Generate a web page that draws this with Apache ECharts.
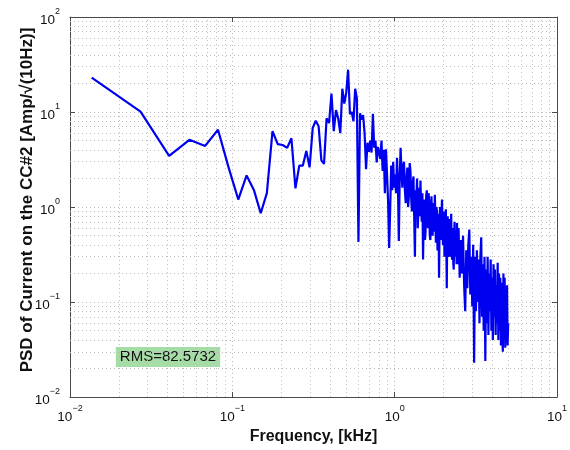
<!DOCTYPE html>
<html>
<head>
<meta charset="utf-8">
<script src="https://cdn.jsdelivr.net/npm/echarts@6/dist/echarts.min.js"></script>
<style>html,body{margin:0;padding:0;background:#fff;}#c{width:570px;height:450px;}</style>
</head>
<body>
<div id="c"></div>
<script>
// Frequency bins [kHz]
const freqKHz = [
  0.0136, 0.0272, 0.0408, 0.0544, 0.068, 0.0816, 0.0952, 0.1088, 0.1224, 0.136,
  0.1496, 0.1632, 0.1768, 0.1904, 0.204, 0.2176, 0.2312, 0.2448, 0.2584, 0.272,
  0.2856, 0.2992, 0.3128, 0.3264, 0.34, 0.3536, 0.3672, 0.3808, 0.3944, 0.408,
  0.4216, 0.4352, 0.4488, 0.4624, 0.476, 0.4896, 0.5032, 0.5168, 0.5304, 0.544,
  0.5576, 0.5712, 0.5848, 0.5984,
  0.612, 0.6256, 0.6392, 0.6528, 0.6664, 0.68, 0.6936, 0.7072, 0.7208, 0.7344,
  0.748, 0.7616, 0.7752, 0.7888, 0.8024, 0.816, 0.8296, 0.8432, 0.8568, 0.8704,
  0.884, 0.8976, 0.9112, 0.9248, 0.9384, 0.952, 0.9656, 0.9792, 0.9928,
  1.006, 1.020, 1.034, 1.047, 1.061, 1.074, 1.088, 1.102, 1.115, 1.129,
  1.142, 1.156, 1.170, 1.183, 1.197, 1.210, 1.224, 1.238, 1.251, 1.265,
  1.278, 1.292, 1.306, 1.319, 1.333, 1.346, 1.360, 1.374, 1.387, 1.401,
  1.414, 1.428, 1.442, 1.455, 1.469, 1.482, 1.496, 1.510, 1.523, 1.537,
  1.550, 1.564, 1.578, 1.591, 1.605, 1.618, 1.632, 1.646, 1.659, 1.673,
  1.686, 1.700, 1.714, 1.727, 1.741, 1.754, 1.768, 1.782, 1.795, 1.809,
  1.822, 1.836, 1.850, 1.863, 1.877, 1.890, 1.904, 1.918, 1.931, 1.945,
  1.958, 1.972, 1.986, 1.999, 2.013, 2.026, 2.040, 2.054, 2.067, 2.081,
  2.094, 2.108, 2.122, 2.135, 2.149, 2.162, 2.176, 2.190, 2.203, 2.217,
  2.230, 2.244, 2.258, 2.271, 2.285, 2.298, 2.312, 2.326, 2.339, 2.353,
  2.366, 2.380, 2.394, 2.407, 2.421, 2.434, 2.448, 2.462, 2.475,
  2.516, 2.557, 2.598, 2.638, 2.679, 2.720, 2.761, 2.802, 2.842, 2.883,
  2.924, 2.965, 3.006, 3.046, 3.087, 3.128, 3.169, 3.210, 3.250, 3.291,
  3.332, 3.373, 3.414, 3.454, 3.495, 3.536, 3.577, 3.618, 3.658, 3.699,
  3.740, 3.781, 3.822, 3.862, 3.903, 3.944, 3.985, 4.026, 4.066, 4.107,
  4.148, 4.189, 4.230, 4.270, 4.311, 4.352, 4.393, 4.434, 4.474, 4.515,
  4.556, 4.597, 4.638, 4.678, 4.719, 4.760, 4.801, 4.842, 4.882, 4.923,
  4.964, 5.005
];
// PSD of current [Amp/sqrt(10Hz)]
const psd = [
  23, 10.1, 3.45, 5.1, 4.4, 6.5, 2.55, 1.2, 2.15, 1.5,
  0.86, 1.4, 6.3, 4.6, 4.5, 4.2, 5.3, 1.57, 2.73, 2.73,
  3.9, 2.62, 6.8, 8.1, 7.1, 3.1, 2.85, 8.6, 7.65, 15.6,
  6.3, 10.5, 8.6, 6.0, 17.6, 12.3, 16, 27.9, 9.5, 10,
  8, 17.6, 14, 0.43,
  9.7, 8.3, 9.3, 6, 2.5, 4.75, 3.8, 5.0, 3.75, 9.6,
  4.2, 5.0, 2.95, 4.3, 4.5, 3.2, 5.0, 2.4, 4.0, 1.4,
  4.05, 2.2, 1.14, 0.37, 0.95, 2.73, 1.5, 3.0, 1.6,
  2.2, 1.4, 3.3, 1.8, 0.44, 2.0, 4.2, 2.3, 1.6, 2.8,
  3.0, 1.5, 1.1, 2.0, 2.6, 1.0, 1.3, 2.9, 2.4, 1.2,
  0.9, 1.8, 2.1, 0.8, 0.30, 1.5, 1.2, 2.0, 0.6, 0.9,
  1.6, 0.8, 1.9, 1.0, 0.7, 1.4, 0.28, 0.8, 1.2, 0.45,
  0.55, 1.3, 1.5, 0.7, 0.6, 1.4, 1.1, 0.5, 0.45, 0.9,
  1.3, 0.6, 0.5, 1.1, 1.0, 0.55, 1.35, 0.8, 0.42, 1.0,
  0.9, 0.35, 0.5, 0.85, 0.18, 0.6, 1.0, 0.45, 0.6, 0.9,
  1.2, 0.5, 0.4, 0.8, 0.9, 0.3, 0.35, 0.7, 0.95, 0.4,
  0.14, 0.5, 0.8, 0.3, 0.32, 0.7, 0.75, 0.3, 0.4, 0.6,
  0.85, 0.35, 0.28, 0.55, 0.6, 0.25, 0.22, 0.5, 0.7, 0.3,
  0.3, 0.5, 0.55, 0.25, 0.68, 0.3, 0.25, 0.45, 0.6,
  0.18, 0.45, 0.2, 0.5, 0.15, 0.08, 0.35, 0.14, 0.4, 0.58,
  0.12, 0.3, 0.09, 0.4, 0.023, 0.3, 0.08, 0.35, 0.1, 0.28,
  0.06, 0.3, 0.48, 0.07, 0.25, 0.05, 0.3, 0.024, 0.22, 0.06,
  0.3, 0.045, 0.2, 0.08, 0.28, 0.05, 0.18, 0.04, 0.25, 0.07,
  0.22, 0.045, 0.15, 0.06, 0.26, 0.04, 0.2, 0.05, 0.18, 0.035,
  0.16, 0.05, 0.03, 0.2, 0.04, 0.18, 0.033, 0.12, 0.04, 0.15,
  0.035, 0.06
];
const xDecades = [0.01, 0.1, 1];
const yDecades = [0.01, 0.1, 1, 10];
const minorMult = [2, 3, 4, 5, 6, 7, 8, 9];
const rmsText = 'RMS=82.5732';
const xName = 'Frequency, [kHz]';
const yName = 'PSD of Current on the CC#2 [Amp/\u221A(10Hz)]';

const FONT = 'Liberation Sans, Arial, Helvetica, sans-serif';
const gridColor = '#bdbdbd';
const frameColor = '#4a4a4a';

function supLabel(v) {
  const e = Math.round(Math.log10(v));
  return '{b|10}{s|' + (e < 0 ? '\u2212' + (-e) : e) + '}';
}
const rich = {
  b: { fontSize: 13.5, fontFamily: FONT, color: '#111', lineHeight: 20, verticalAlign: 'bottom' },
  s: { fontSize: 9, fontFamily: FONT, color: '#111', verticalAlign: 'top' }
};

const minorX = [], minorY = [];
xDecades.forEach(d => minorMult.forEach(m => minorX.push({ xAxis: +(d * m).toPrecision(3) })));
yDecades.forEach(d => minorMult.forEach(m => minorY.push({ yAxis: +(d * m).toPrecision(3) })));

const chart = echarts.init(document.getElementById('c'), null, { renderer: 'canvas' });
const baseX = { type: 'log', logBase: 10, min: 0.01, max: 10 };
const baseY = { type: 'log', logBase: 10, min: 0.01, max: 100 };
chart.setOption({
  animation: false,
  backgroundColor: '#fff',
  grid: { left: 70, right: 10, top: 17, bottom: 46, containLabel: false },
  xAxis: [
    Object.assign({}, baseX, {
      position: 'bottom',
      name: xName, nameLocation: 'middle', nameGap: 25,
      nameTextStyle: { fontFamily: FONT, fontWeight: 'bold', fontSize: 16, color: '#111' },
      axisLine: { show: true, lineStyle: { color: frameColor, width: 1 } },
      axisTick: { show: true, inside: true, length: 5, lineStyle: { color: frameColor } },
      axisLabel: { show: true, formatter: supLabel, rich: rich, margin: 7, showMinLabel: true, showMaxLabel: true },
      splitLine: { show: true, lineStyle: { color: gridColor, type: [1, 3], width: 1 } }
    }),
    Object.assign({}, baseX, {
      position: 'top',
      axisLine: { show: true, lineStyle: { color: frameColor, width: 1 } },
      axisTick: { show: true, inside: true, length: 5, lineStyle: { color: frameColor } },
      axisLabel: { show: false }, splitLine: { show: false }
    })
  ],
  yAxis: [
    Object.assign({}, baseY, {
      position: 'left',
      axisLine: { show: true, lineStyle: { color: frameColor, width: 1 } },
      axisTick: { show: true, inside: true, length: 5, lineStyle: { color: frameColor } },
      axisLabel: { show: true, formatter: supLabel, rich: rich, margin: 10, showMinLabel: true, showMaxLabel: true },
      splitLine: { show: true, lineStyle: { color: gridColor, type: [1, 3], width: 1 } }
    }),
    Object.assign({}, baseY, {
      position: 'right',
      axisLine: { show: true, lineStyle: { color: frameColor, width: 1 } },
      axisTick: { show: true, inside: true, length: 5, lineStyle: { color: frameColor } },
      axisLabel: { show: false }, splitLine: { show: false }
    })
  ],
  series: [
    {
      type: 'line', data: [], z: 1, silent: true, symbol: 'none',
      markLine: {
        silent: true, symbol: ['none', 'none'], label: { show: false },
        lineStyle: { color: gridColor, type: [1, 3], width: 1 },
        emphasis: { disabled: true },
        data: minorX.concat(minorY)
      }
    },
    {
      type: 'line', z: 5, symbol: 'none', showSymbol: false, sampling: null,
      data: freqKHz.map((f, i) => [f, psd[i]]),
      lineStyle: { color: '#0000f0', width: 2.2 },
      itemStyle: { color: '#0000f0' }
    }
  ],
  graphic: [
    {
      type: 'text', x: 27, y: 200, rotation: Math.PI / 2,
      style: { text: yName, font: 'bold 17px ' + FONT, fill: '#111', align: 'center', verticalAlign: 'middle' }
    },
    {
      type: 'text', x: 168, y: 357,
      style: { text: rmsText, font: '15px ' + FONT, fill: '#111', align: 'center', verticalAlign: 'middle',
               backgroundColor: '#a6dca6', padding: [3, 4, 2, 4] }
    }
  ]
});
</script>
</body>
</html>
